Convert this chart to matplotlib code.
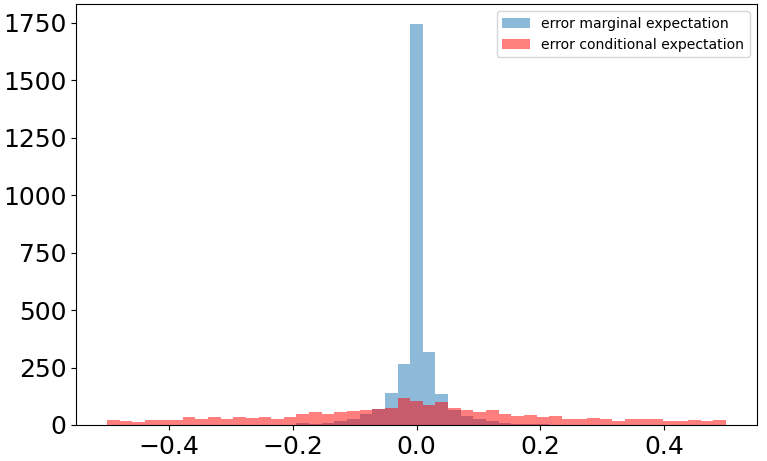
import numpy as np
import matplotlib
matplotlib.use("Agg")
import matplotlib.pyplot as plt

# 49 bins spanning -0.5 .. 0.5
bin_lo = -0.5
bin_hi = 0.5
n_edges = 50

marginal_counts = [0, 0, 0, 0, 0, 0, 0, 0, 0, 0,
                   0, 0, 0, 0, 0, 7, 4, 7, 16, 25,
                   47, 68, 138, 266, 1745, 316, 137, 64, 39, 25,
                   16, 7, 4, 4, 3, 2, 2, 0, 0, 0,
                   0, 0, 0, 0, 0, 0, 0, 0, 0]

conditional_counts = [20, 16, 12, 20, 20, 20, 33, 25, 33, 25,
                      33, 29, 33, 25, 33, 46, 55, 46, 55, 60,
                      64, 70, 73, 116, 103, 86, 99, 72, 64, 55,
                      64, 46, 37, 42, 33, 37, 24, 25, 29, 25,
                      16, 25, 25, 25, 16, 16, 20, 16, 20]

labels = ["error marginal expectation", "error conditional expectation"]

edges = np.linspace(bin_lo, bin_hi, n_edges)
centers = 0.5 * (edges[:-1] + edges[1:])

fig = plt.figure(figsize=(7.67, 4.61), dpi=100)
ax = fig.add_axes([0.0991, 0.0781, 0.8879, 0.9132])

ax.hist(centers, bins=edges, weights=marginal_counts, alpha=0.5, label=labels[0])
ax.hist(centers, bins=edges, weights=conditional_counts, alpha=0.5, color="red", label=labels[1])

ax.tick_params(axis="both", labelsize=18)
ax.set_xticks([-0.4, -0.2, 0.0, 0.2, 0.4])
ax.set_yticks([0, 250, 500, 750, 1000, 1250, 1500, 1750])
ax.legend(loc="upper right", fontsize=10.1)

fig.savefig("out.png", dpi=100)
